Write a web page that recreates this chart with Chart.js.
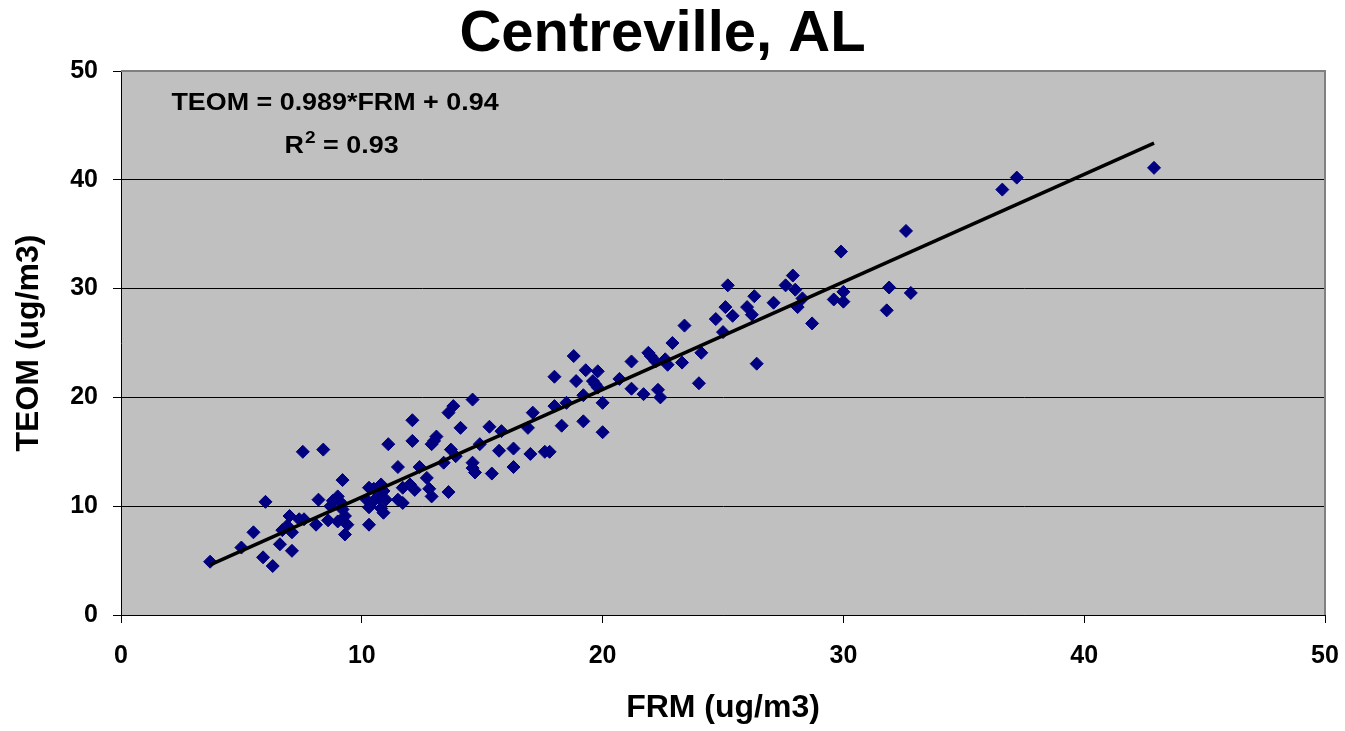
<!DOCTYPE html>
<html>
<head>
<meta charset="utf-8">
<script src="https://cdn.jsdelivr.net/npm/chart.js@4.4.1/dist/chart.umd.min.js"></script>
<style>
  html, body { margin: 0; padding: 0; background: #ffffff; overflow: hidden; }
  #wrap { width: 1345px; height: 731px; position: relative; }
</style>
</head>
<body>
<div id="wrap"><canvas id="c"></canvas></div>
<script>
// ---- Data ----
const chartTitle = 'Centreville, AL';
const xAxisTitle = 'FRM (ug/m3)';
const yAxisTitle = 'TEOM (ug/m3)';
const xTicks = [0, 10, 20, 30, 40, 50];
const yTicks = [0, 10, 20, 30, 40, 50];

const frmValues = [
  3.7, 5.0, 5.5, 5.9, 6.0, 6.3, 6.6, 7.1, 7.0, 6.9, 6.7, 7.1, 7.4, 7.6, 7.55,
  8.4, 8.1, 8.2, 8.6, 9.0, 9.3, 9.4, 9.3, 9.2, 9.0, 8.8, 8.7, 9.1, 9.2,
  10.3, 10.3, 10.5, 10.8, 10.9, 10.2, 10.5, 10.7, 11.0, 10.3, 10.8, 10.9, 11.1, 11.5, 11.7, 12.0, 12.2, 11.5, 11.7,
  12.1, 12.1, 12.4, 12.7, 12.8, 12.9, 12.9, 13.0, 13.1, 13.6, 13.8, 13.4, 13.6, 13.7, 13.9,
  14.1, 14.6, 14.9, 14.6, 14.6, 14.7, 15.3, 15.4, 15.7, 15.8,
  16.3, 16.3, 16.9, 17.0, 17.1, 17.6, 17.8, 18.0, 18.0,
  18.3, 18.5, 18.8, 18.9, 19.2, 19.2, 19.3, 19.6, 19.7, 19.8, 19.8, 20.0, 20.0,
  20.7, 21.2, 21.2, 21.7, 21.9, 22.0, 22.2, 22.6, 22.7, 22.3, 22.4, 22.9, 23.3, 23.4, 24.1, 24.0,
  24.7, 25.0, 25.1, 25.2, 25.4, 26.0, 26.2, 26.3, 26.4, 27.1, 27.6, 27.9, 28.0, 28.1, 28.3, 28.7, 29.6, 29.9, 30.0, 30.0,
  31.8, 31.9, 32.6, 32.8, 36.6, 37.2, 42.9
];
const teomValues = [
  4.9, 6.2, 7.6, 5.3, 10.4, 4.5, 6.5, 5.9, 9.1, 8.2, 7.8, 7.6, 8.8, 8.8, 15.0,
  15.2, 8.3, 10.6, 8.7, 8.6, 9.1, 8.3, 7.4, 12.4, 10.9, 10.5, 10.0, 10.4, 9.7,
  8.3, 11.7, 11.6, 12.0, 11.4, 10.6, 10.5, 10.8, 10.6, 9.9, 9.8, 9.4, 15.7, 13.6, 11.7, 12.0, 11.5, 10.6, 10.3,
  17.9, 16.0, 13.6, 12.6, 11.6, 10.9, 15.7, 16.0, 16.4, 18.6, 19.2, 14.0, 11.3, 15.2, 14.6,
  17.2, 19.8, 15.7, 14.0, 13.5, 13.1, 17.3, 13.0, 15.1, 16.9,
  15.3, 13.6, 17.2, 14.8, 18.6, 15.0, 15.0, 19.2, 21.9,
  17.4, 19.5, 23.8, 21.5, 17.8, 20.2, 22.5, 21.5, 21.2, 20.9, 22.4, 19.5, 16.8,
  21.7, 20.8, 23.3, 20.3, 24.1, 23.8, 23.3, 23.5, 23.0, 20.7, 20.0, 25.0, 23.2, 26.6, 24.1, 21.3,
  27.2, 26.0, 28.3, 30.3, 27.5, 28.3, 27.6, 29.3, 23.1, 28.7, 30.3, 31.2, 29.9, 28.3, 29.1, 26.8, 29.0, 33.4, 29.7, 28.8,
  28.0, 30.1, 35.3, 29.6, 39.1, 40.2, 41.1
];

// Regression shown on the chart: TEOM = 0.989*FRM + 0.94, R^2 = 0.93
const trendSlope = 0.989;
const trendIntercept = 0.94;
const trendXRange = [3.7, 42.9];
const equationText = 'TEOM = 0.989*FRM + 0.94';
const rSquaredText = '0.93';

const scatterPoints = frmValues.map((x, i) => ({ x: x, y: teomValues[i] }));
const trendPoints = trendXRange.map(x => ({ x: x, y: trendSlope * x + trendIntercept }));

const FONT = "'Liberation Sans', Arial, sans-serif";
Chart.defaults.font.family = FONT;
Chart.defaults.color = '#000000';

const plotBg = {
  id: 'plotBg',
  beforeDraw(chart) {
    const { ctx, chartArea: a } = chart;
    ctx.save();
    ctx.fillStyle = '#c0c0c0';
    ctx.fillRect(a.left, a.top, a.right - a.left, a.bottom - a.top);
    ctx.restore();
  },
  beforeDatasetsDraw(chart) {
    const { ctx, chartArea: a } = chart;
    ctx.save();
    ctx.strokeStyle = '#808080';
    ctx.lineWidth = 2;
    ctx.beginPath();
    ctx.moveTo(a.left, a.top);
    ctx.lineTo(a.right, a.top);
    ctx.lineTo(a.right, a.bottom);
    ctx.stroke();
    ctx.restore();
  }
};

const annotation = {
  id: 'annotation',
  afterDraw(chart) {
    const { ctx } = chart;
    const sx = 1.12;
    ctx.save();
    ctx.fillStyle = '#000000';
    ctx.textBaseline = 'alphabetic';
    ctx.font = 'bold 24px ' + FONT;
    ctx.textAlign = 'center';
    ctx.save();
    ctx.translate(335, 110);
    ctx.scale(sx, 1);
    ctx.fillText(equationText, 0, 0);
    ctx.restore();

    // R^2 line
    const big = 'bold 24px ' + FONT;
    const small = 'bold 17px ' + FONT;
    ctx.font = big;
    const wR = ctx.measureText('R').width;
    const wRest = ctx.measureText(' = ' + rSquaredText).width;
    ctx.font = small;
    const w2 = ctx.measureText('2').width;
    const total = (wR + w2 + wRest);
    ctx.save();
    ctx.translate(341, 153);
    ctx.scale(sx, 1);
    ctx.textAlign = 'left';
    let x = -total / 2;
    ctx.font = big;
    ctx.fillText('R', x, 0);
    x += wR + 1;
    ctx.font = small;
    ctx.fillText('2', x, -10);
    x += w2;
    ctx.font = big;
    ctx.fillText(' = ' + rSquaredText, x, 0);
    ctx.restore();
    ctx.restore();
  }
};

new Chart(document.getElementById('c'), {
  type: 'scatter',
  data: {
    datasets: [
      {
        label: 'Trend',
        data: trendPoints,
        showLine: true,
        borderColor: '#000000',
        borderWidth: 3.5,
        pointRadius: 0,
        fill: false,
        tension: 0
      },
      {
        label: 'TEOM vs FRM',
        data: scatterPoints,
        pointStyle: 'rectRot',
        pointRadius: 6.5,
        pointBackgroundColor: '#000080',
        pointBorderColor: '#000080',
        pointBorderWidth: 1,
        showLine: false
      }
    ]
  },
  options: {
    responsive: true,
    maintainAspectRatio: false,
    animation: false,
    events: [],
    layout: { padding: { left: 0, right: 20, top: 0, bottom: 0 } },
    plugins: {
      legend: { display: false },
      tooltip: { enabled: false },
      title: {
        display: true,
        text: chartTitle,
        color: '#000000',
        font: { size: 58, weight: 'bold', family: FONT, lineHeight: 1.2 },
        padding: { top: 0, bottom: 1.4 }
      }
    },
    scales: {
      x: {
        type: 'linear',
        position: 'bottom',
        min: xTicks[0],
        max: xTicks[xTicks.length - 1],
        afterBuildTicks(s) { s.ticks = xTicks.map(v => ({ value: v })); },
        afterFit(s) { s.height = 116; s.paddingRight = 0; s.paddingLeft = 0; },
        ticks: {
          color: '#000000',
          font: { size: 25, weight: 'bold', family: FONT },
          padding: 18,
          maxRotation: 0
        },
        grid: {
          drawOnChartArea: false,
          drawTicks: true,
          tickLength: 8,
          tickColor: '#000000',
          tickWidth: 1
        },
        border: { display: true, color: '#000000', width: 1 },
        title: {
          display: true,
          text: xAxisTitle,
          color: '#000000',
          font: { size: 32, weight: 'bold', family: FONT, lineHeight: 1.2 },
          padding: { top: 0, bottom: 4 }
        }
      },
      y: {
        type: 'linear',
        position: 'left',
        min: yTicks[0],
        max: yTicks[yTicks.length - 1],
        afterBuildTicks(s) { s.ticks = yTicks.map(v => ({ value: v })); },
        afterFit(s) { s.width = 121; s.paddingTop = 0; s.paddingBottom = 0; },
        ticks: {
          color: '#000000',
          font: { size: 25, weight: 'bold', family: FONT },
          padding: 15
        },
        grid: {
          color: '#000000',
          lineWidth: 1,
          drawTicks: true,
          tickLength: 8,
          tickColor: '#000000'
        },
        border: { display: true, color: '#000000', width: 1 },
        title: {
          display: true,
          text: yAxisTitle,
          color: '#000000',
          font: { size: 32, weight: 'bold', family: FONT, lineHeight: 1.2 },
          padding: { top: 10, bottom: 0 }
        }
      }
    }
  },
  plugins: [plotBg, annotation]
});
</script>
</body>
</html>
